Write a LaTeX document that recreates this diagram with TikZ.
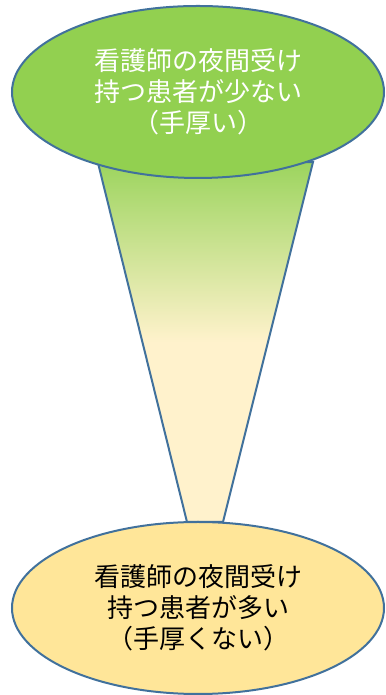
\documentclass[tikz,border=0pt]{standalone}
\usepackage{fontspec}
\newfontfamily\cjk{Noto Sans CJK JP}
\usetikzlibrary{shapes.geometric}
\definecolor{edgeblue}{HTML}{41719C}
\definecolor{leafgreen}{HTML}{92D050}
\definecolor{topgreen}{HTML}{9CD45E}
\definecolor{cream}{HTML}{FFF2CC}
\definecolor{paleyellow}{HTML}{FFE699}
\pgfdeclareverticalshading{funnelshade}{100bp}{color(0bp)=(cream); color(50bp)=(cream); color(75bp)=(topgreen); color(100bp)=(topgreen)}
\tikzset{
  bubble/.style={ellipse, draw=edgeblue, line width=2pt, minimum width=372pt, minimum height=172pt, inner sep=0pt, align=center, font=\cjk\fontsize{26pt}{31pt}\selectfont},
  funnel/.style={draw=edgeblue, line width=2pt, shading=funnelshade}
}
\begin{document}
\begin{tikzpicture}[x=1pt,y=1pt]
\useasboundingbox (0,0) rectangle (385,695);
\coordinate (tl) at (98,532);
\coordinate (tr) at (313,533);
\coordinate (br) at (223,173);
\coordinate (bl) at (187,173);
\path[funnel] (tl) -- (tr) -- (br) -- (bl) -- cycle;
\node[bubble, fill=leafgreen, text=white] (few) at (198,603) {看護師の夜間受け\\持つ患者が少ない\\（手厚い）};
\node[bubble, fill=paleyellow, text=black] (many) at (198,87) {看護師の夜間受け\\持つ患者が多い\\（手厚くない）};
\end{tikzpicture}
\end{document}
